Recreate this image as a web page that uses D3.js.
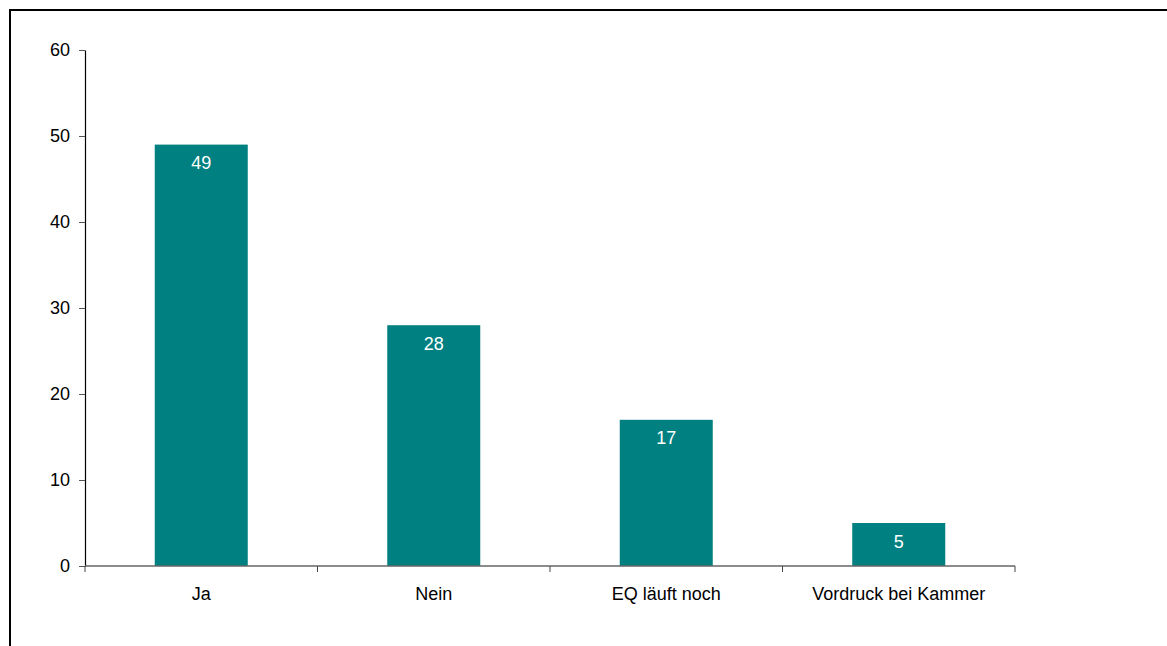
<!DOCTYPE html>
<html><head><meta charset="utf-8">
<script src="https://cdn.jsdelivr.net/npm/d3@7"></script>
<style>
html,body{margin:0;padding:0;background:#fff;}
svg{display:block;font-family:"Liberation Sans",Arial,Helvetica,sans-serif;}
</style></head>
<body>
<svg id="chart" width="1167" height="646"></svg>
<script>
const categories = ["Ja", "Nein", "EQ läuft noch", "Vordruck bei Kammer"];
const values = [49, 28, 17, 5];
const yTicks = [0, 10, 20, 30, 40, 50, 60];

const svg = d3.select("#chart");
const FS = 18;

// frame
svg.append("rect").attr("x", 10).attr("y", 10).attr("width", 1170).attr("height", 650)
  .attr("fill", "none").attr("stroke", "#000").attr("stroke-width", 2);

const x = d3.scaleBand().domain(categories).range([85, 1015]).paddingInner(0.6).paddingOuter(0.3);
const y = d3.scaleLinear().domain([0, 60]).range([566, 50]);

// bars
svg.append("g").selectAll("rect").data(values).join("rect")
  .attr("x", (d, i) => x(categories[i]))
  .attr("y", d => y(d))
  .attr("width", x.bandwidth())
  .attr("height", d => y(0) - y(d))
  .attr("fill", "#008080");

// bar labels
svg.append("g").selectAll("text").data(values).join("text")
  .attr("x", (d, i) => x(categories[i]) + x.bandwidth() / 2)
  .attr("y", d => y(d) + 24.5)
  .attr("text-anchor", "middle")
  .attr("fill", "#fff")
  .attr("font-size", FS)
  .text(d => d);

// y axis
const yAxis = svg.append("g").attr("transform", "translate(85,0)")
  .call(d3.axisLeft(y).tickValues(yTicks).tickSize(6).tickPadding(9).tickSizeOuter(0));
yAxis.select(".domain").attr("stroke", "#000").attr("stroke-width", 1.2);
yAxis.selectAll(".tick line").attr("stroke", "#555");
yAxis.selectAll(".tick text").attr("font-size", FS).attr("fill", "#000")
  .attr("font-family", "Liberation Sans, Arial, sans-serif");

// x axis with boundary ticks
const xAxisG = svg.append("g").attr("transform", "translate(0,566)");
xAxisG.append("line").attr("x1", 85).attr("x2", 1015).attr("y1", 0).attr("y2", 0)
  .attr("stroke", "#666").attr("stroke-width", 1.5);
xAxisG.selectAll("line.tk").data(d3.range(categories.length + 1)).join("line")
  .attr("class", "tk")
  .attr("x1", i => 85 + i * x.step())
  .attr("x2", i => 85 + i * x.step())
  .attr("y1", 0).attr("y2", 6)
  .attr("stroke", "#444").attr("stroke-width", 1);
xAxisG.selectAll("text").data(categories).join("text")
  .attr("x", d => x(d) + x.bandwidth() / 2)
  .attr("y", 34)
  .attr("text-anchor", "middle")
  .attr("font-size", FS)
  .attr("fill", "#000")
  .text(d => d);
</script>
</body></html>
